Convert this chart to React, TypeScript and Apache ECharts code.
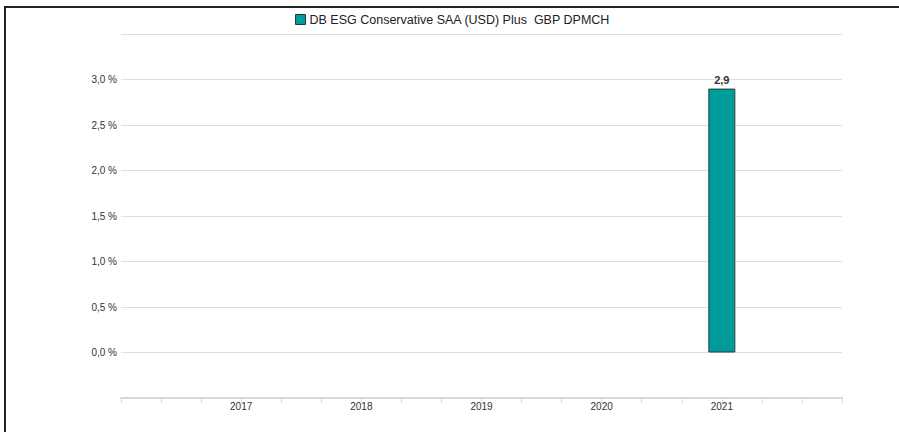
import React, { useEffect, useRef } from "react";
import * as echarts from "echarts";

const seriesName = "DB ESG Conservative SAA (USD) Plus  GBP DPMCH";
const years = [2017, 2018, 2019, 2020, 2021];
const values: (number | null)[] = [null, null, null, null, 2.9];
const yTicks = [-0.5, 0, 0.5, 1, 1.5, 2, 2.5, 3, 3.5];

export default function App() {
  const ref = useRef<HTMLDivElement>(null);
  useEffect(() => {
    document.body.style.margin = "0";
    const chart = echarts.init(ref.current!, null, { renderer: "svg" });
    const data = years
      .map((y, i) => [y, values[i]])
      .filter((d) => d[1] !== null);
    chart.setOption({
      animation: false,
      textStyle: { fontFamily: "Liberation Sans, Arial, sans-serif" },
      legend: {
        top: 13,
        left: 295,
        padding: 0,
        itemWidth: 10,
        itemHeight: 10,
        itemGap: 4,
        textStyle: { fontSize: 12.5, color: "#222", padding: [0, 0, 0, -1] },
        data: [
          {
            name: seriesName,
            icon: "rect",
            itemStyle: { color: "#009c9c", borderColor: "#2b3b3b", borderWidth: 1 },
          },
        ],
      },
      grid: { left: 121, right: 57, top: 34, bottom: 34, containLabel: false },
      xAxis: {
        type: "value",
        min: years[0] - 1,
        max: years[years.length - 1] + 1,
        interval: 1,
        splitLine: { show: false },
        axisLine: { show: true, onZero: false, lineStyle: { color: "#dcd8d0", width: 2 } },
        axisTick: { show: true, length: 5, lineStyle: { color: "#dcd8d0", width: 1 } },
        minorTick: { show: true, splitNumber: 3, length: 5, lineStyle: { color: "#dcd8d0", width: 1 } },
        axisLabel: {
          showMinLabel: false,
          showMaxLabel: false,
          fontSize: 10,
          color: "#333",
          margin: 3,
          formatter: (v: number) => String(v),
        },
      },
      yAxis: {
        type: "value",
        min: yTicks[0],
        max: yTicks[yTicks.length - 1],
        interval: 0.5,
        axisLine: { show: false },
        axisTick: { show: false },
        splitLine: { show: true, lineStyle: { color: "#e2dfd8", width: 1 } },
        axisLabel: {
          showMinLabel: false,
          showMaxLabel: false,
          fontSize: 10,
          color: "#333",
          margin: 4,
          formatter: (v: number) => v.toFixed(1).replace(".", ",") + " %",
        },
      },
      series: [
        {
          name: seriesName,
          type: "bar",
          barWidth: 27,
          data,
          itemStyle: { color: "#009c9c", borderColor: "#2b3b3b", borderWidth: 1 },
          label: {
            show: true,
            position: "top",
            distance: 3,
            fontSize: 11,
            fontWeight: "bold",
            color: "#333",
            formatter: (p: any) => String(p.value[1]).replace(".", ","),
          },
        },
      ],
    });
    return () => chart.dispose();
  }, []);
  return (
    <div style={{ position: "fixed", left: 0, top: 0, width: 899, height: 432, overflow: "hidden", background: "#fff" }}>
      <div
        style={{
          position: "absolute",
          left: 4,
          top: 6,
          width: 920,
          height: 460,
          borderTop: "2px solid #222",
          borderLeft: "2px solid #222",
        }}
      />
      <div ref={ref} style={{ position: "absolute", left: 0, top: 0, width: 899, height: 432 }} />
    </div>
  );
}
